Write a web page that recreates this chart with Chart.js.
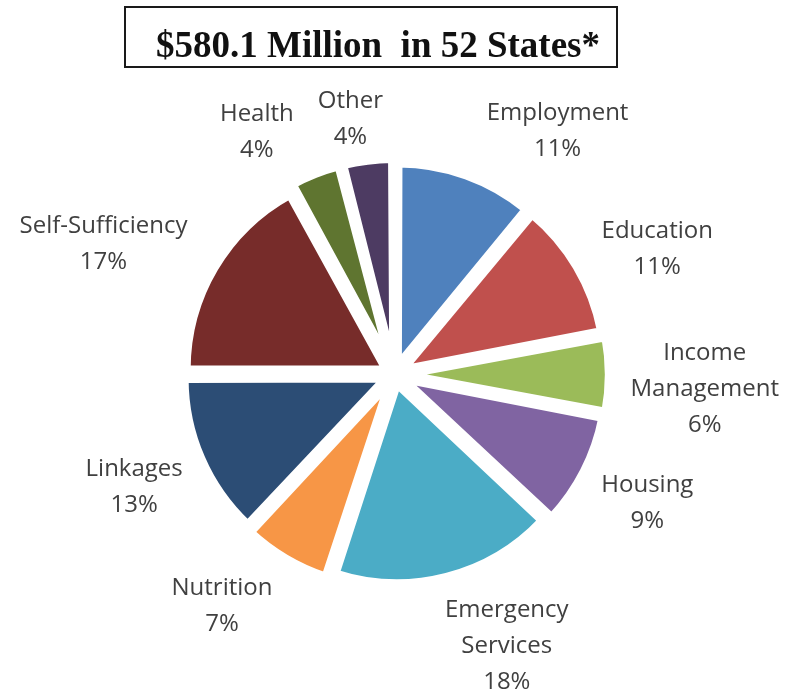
<!DOCTYPE html>
<html>
<head>
<meta charset="utf-8">
<script src="https://cdn.jsdelivr.net/npm/chart.js@4/dist/chart.umd.min.js"></script>
<style>
  html, body { margin: 0; padding: 0; background: #fff; }
  #wrap { position: relative; width: 788px; height: 696px; }
  #fundchart { position: absolute; left: 0; top: 0; }
  #title {
    position: absolute; left: 124px; top: 6px; width: 490px; height: 58px;
    border: 2px solid #1a1a1a; box-sizing: content-box;
    font-family: "Liberation Serif", "Times New Roman", serif; font-weight: bold;
    font-size: 37px; line-height: 37px; color: #111;
    text-align: center; white-space: pre;
  }
  #title span { position: relative; top: 18px; left: 7px; }
</style>
</head>
<body>
<div id="wrap">
  <canvas id="fundchart" width="788" height="696"></canvas>
  <div id="title"><span>$580.1 Million  in 52 States*</span></div>
</div>
<script>
var categories = ['Employment', 'Education', ['Income', 'Management'], 'Housing',
    ['Emergency', 'Services'], 'Nutrition', 'Linkages', 'Self-Sufficiency', 'Health', 'Other'];
var shares = [11, 11, 6, 9, 18, 7, 13, 17, 4, 4];
var colors = ['#4F81BD', '#C0504D', '#9BBB59', '#8064A2', '#4BACC6',
    '#F79646', '#2C4D75', '#772C2A', '#5F7530', '#4D3B62'];

// small hand nudges so the outside labels sit where Excel put them
var labelNudge = [[17, 2], [16, 24], [14, 15], [9, -8], [11, 3],
    [-9, 5], [-8, -12], [-16, 19], [-19, 0], [-4, 1]];

var lineH = 36;

var outsideLabels = {
    id: 'outsideLabels',
    afterDatasetsDraw: function(chart) {
        var ctx = chart.ctx;
        var meta = chart.getDatasetMeta(0);
        var total = shares.reduce(function(a, b) { return a + b; }, 0);
        ctx.save();
        ctx.font = '24px "Open Sans"';
        ctx.fillStyle = '#404040';
        ctx.textAlign = 'center';
        ctx.textBaseline = 'middle';
        meta.data.forEach(function(arc, i) {
            var p = arc.getProps(['x', 'y', 'startAngle', 'endAngle', 'outerRadius'], true);
            var mid = (p.startAngle + p.endAngle) / 2;
            var ux = Math.cos(mid), uy = Math.sin(mid);
            var dist = p.outerRadius + 24;
            var lines = [].concat(categories[i]);
            lines.push(Math.round(shares[i] / total * 100) + '%');
            var w = 0;
            lines.forEach(function(t) { w = Math.max(w, ctx.measureText(t).width); });
            var h = lines.length * lineH;
            var clamp = function(v) { return Math.max(-1, Math.min(1, v)); };
            var cx = p.x + dist * ux + w / 2 * clamp(3 * ux) + labelNudge[i][0];
            var cy = p.y + dist * uy + h / 2 * clamp(3 * uy) + labelNudge[i][1];
            lines.forEach(function(t, j) {
                ctx.fillText(t, cx, cy - (lines.length - 1) * lineH / 2 + j * lineH);
            });
        });
        ctx.restore();
    }
};

var fundctx = document.getElementById('fundchart').getContext('2d');
var fundchart = new Chart(fundctx, {
    type: 'pie',
    data: {
        labels: categories,
        datasets: [{
            data: shares,
            backgroundColor: colors,
            borderColor: '#ffffff',
            borderWidth: 8,
            offset: 40,
            hoverOffset: 0
        }]
    },
    options: {
        responsive: false,
        animation: false,
        events: [],
        layout: { padding: { left: 172.5, right: 171.5, top: 152.5, bottom: 99.5 } },
        plugins: {
            legend: { display: false },
            tooltip: { enabled: false }
        }
    },
    plugins: [outsideLabels]
});
</script>
</body>
</html>
